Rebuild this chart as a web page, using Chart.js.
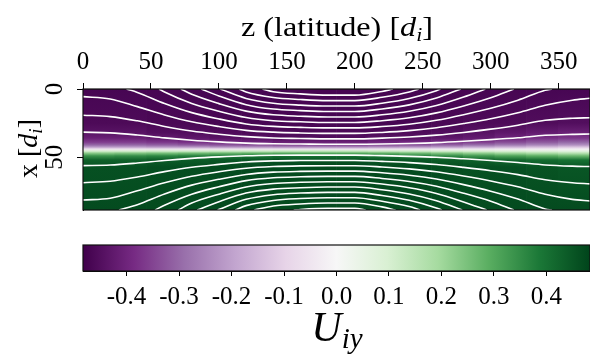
<!DOCTYPE html>
<html>
<head>
<meta charset="utf-8">
<script src="https://cdn.jsdelivr.net/npm/chart.js@4.4.1/dist/chart.umd.min.js"></script>
<style>
  html, body { margin: 0; padding: 0; background: #fff; }
  #wrap { position: relative; width: 590px; height: 358px; }
  #mapBox { position: absolute; left: 0; top: 0; width: 590px; height: 232px; }
  #barBox { position: absolute; left: 0; top: 232px; width: 590px; height: 126px; }
</style>
</head>
<body>
<div id="wrap">
  <div id="mapBox"><canvas id="mapChart"></canvas></div>
  <div id="barBox"><canvas id="colorbarChart"></canvas></div>
</div>
<script>
const SERIF = "'Liberation Serif', 'DejaVu Serif', serif";

// axis extents (z along the top, x downwards)
const zMax = 373;
const xMax = 88.6;
const uMin = -0.483;
const uMax = 0.483;

// PRGn colormap stops
const prgnStops = ["#40004b", "#762a83", "#9970ab", "#c2a5cf", "#e7d4e8", "#f7f7f7",
  "#d9f0d3", "#a6dba0", "#5aae61", "#1b7837", "#00441b"];

// heat map: one column per z strip, U_iy read at these x positions
const columnZ = [11.66, 34.97, 58.28, 81.59, 104.91, 128.22, 151.53, 174.84,
  198.16, 221.47, 244.78, 268.09, 291.41, 314.72, 338.03, 361.34];
const profileX = [0, 25, 32, 36, 39, 41, 42.5, 44, 45.5, 47, 49, 52, 57, 88.6];
const columnU = [
  [-0.47, -0.46, -0.44, -0.41, -0.36, -0.30, -0.21, -0.05, 0.10, 0.23, 0.34, 0.43, 0.46, 0.47],
  [-0.47, -0.46, -0.44, -0.41, -0.36, -0.30, -0.21, -0.05, 0.10, 0.24, 0.35, 0.43, 0.46, 0.47],
  [-0.47, -0.465, -0.45, -0.42, -0.37, -0.31, -0.22, -0.05, 0.11, 0.25, 0.36, 0.44, 0.465, 0.47],
  [-0.47, -0.465, -0.45, -0.43, -0.38, -0.32, -0.22, -0.05, 0.11, 0.26, 0.37, 0.44, 0.465, 0.47],
  [-0.47, -0.47, -0.455, -0.44, -0.39, -0.33, -0.23, -0.05, 0.12, 0.27, 0.38, 0.45, 0.47, 0.47],
  [-0.47, -0.47, -0.46, -0.44, -0.40, -0.34, -0.23, -0.05, 0.12, 0.28, 0.39, 0.45, 0.47, 0.47],
  [-0.47, -0.47, -0.46, -0.45, -0.41, -0.35, -0.24, -0.05, 0.13, 0.29, 0.40, 0.46, 0.47, 0.47],
  [-0.47, -0.47, -0.46, -0.45, -0.41, -0.35, -0.24, -0.05, 0.13, 0.29, 0.40, 0.46, 0.47, 0.47],
  [-0.47, -0.47, -0.46, -0.45, -0.41, -0.35, -0.24, -0.05, 0.13, 0.29, 0.40, 0.46, 0.47, 0.47],
  [-0.47, -0.47, -0.46, -0.44, -0.40, -0.34, -0.23, -0.05, 0.12, 0.28, 0.39, 0.45, 0.47, 0.47],
  [-0.47, -0.47, -0.455, -0.44, -0.39, -0.33, -0.22, -0.05, 0.11, 0.26, 0.37, 0.45, 0.47, 0.47],
  [-0.47, -0.465, -0.45, -0.43, -0.38, -0.31, -0.21, -0.04, 0.10, 0.24, 0.35, 0.44, 0.465, 0.47],
  [-0.47, -0.46, -0.44, -0.42, -0.36, -0.29, -0.19, -0.04, 0.09, 0.22, 0.33, 0.43, 0.46, 0.47],
  [-0.47, -0.46, -0.43, -0.40, -0.34, -0.27, -0.17, -0.03, 0.08, 0.20, 0.31, 0.42, 0.46, 0.47],
  [-0.47, -0.455, -0.42, -0.38, -0.32, -0.25, -0.15, -0.03, 0.07, 0.18, 0.29, 0.41, 0.455, 0.47],
  [-0.47, -0.45, -0.41, -0.37, -0.30, -0.23, -0.13, -0.02, 0.06, 0.16, 0.27, 0.40, 0.45, 0.47],
];

// field lines above the sheet, [z, x]
const upperLines = [
  [[0, 31.6], [20, 32.1], [40, 33.7], [60, 35.8], [80, 37.5], [100, 38.7], [120, 39.6], [140, 40.1], [160, 40.3], [180, 40.5], [200, 40.5], [220, 40.3], [240, 39.9], [260, 39.3], [280, 38.3], [300, 37.1], [320, 35.7], [340, 33.9], [360, 33.2], [373, 33.0]],
  [[0, 19.2], [20, 20.2], [40, 23.3], [60, 27.4], [80, 30.8], [100, 33.1], [120, 34.9], [140, 35.9], [160, 36.2], [180, 36.5], [200, 36.5], [220, 36.0], [240, 35.2], [260, 33.8], [280, 31.8], [300, 29.4], [320, 26.5], [340, 22.9], [360, 21.4], [373, 21.0]],
  [[0, 5.6], [20, 7.3], [40, 12.9], [60, 19.0], [80, 24.0], [100, 27.5], [120, 30.3], [140, 31.6], [160, 32.2], [180, 32.5], [200, 32.5], [220, 31.8], [240, 30.5], [260, 28.4], [280, 25.3], [300, 21.8], [320, 17.4], [340, 11.9], [360, 8.2], [373, 6.8]],
  [[32, 0], [40, 2.5], [60, 10.6], [80, 17.3], [100, 21.9], [120, 25.6], [140, 27.4], [160, 28.1], [180, 28.5], [200, 28.5], [220, 27.5], [240, 25.8], [260, 22.9], [280, 18.8], [300, 14.1], [320, 8.2], [340, 0.9], [345, 0]],
  [[56, 0], [60, 2.2], [80, 10.6], [100, 16.3], [120, 20.9], [140, 23.2], [160, 24.0], [180, 24.5], [200, 24.5], [220, 23.2], [240, 21.1], [260, 17.5], [280, 12.4], [300, 6.4], [317, 0]],
  [[72, 0], [80, 3.9], [100, 10.7], [120, 16.2], [140, 18.9], [160, 19.9], [180, 20.5], [200, 20.5], [220, 18.9], [240, 16.3], [260, 12.1], [280, 5.9], [296, 0]],
  [[87, 0], [100, 5.1], [120, 11.5], [140, 14.7], [160, 15.8], [180, 16.5], [200, 16.5], [220, 14.6], [240, 11.6], [260, 6.6], [278, 0]],
  [[101, 0], [120, 6.9], [140, 10.4], [160, 11.8], [180, 12.5], [200, 12.5], [220, 10.4], [240, 6.9], [260, 1.2], [263, 0]],
  [[115, 0], [120, 2.2], [140, 6.2], [160, 7.7], [180, 8.5], [200, 8.5], [220, 6.1], [240, 2.2], [247, 0]],
  [[132, 0], [140, 2.0], [160, 3.6], [180, 4.5], [200, 4.5], [220, 1.8], [228, 0]],
];

// field lines below the sheet, [z, x]
const lowerLines = [
  [[0, 56.1], [20, 55.7], [40, 54.2], [60, 52.3], [80, 50.8], [100, 49.7], [120, 48.9], [140, 48.5], [160, 48.4], [180, 48.4], [200, 48.4], [220, 48.8], [240, 49.3], [260, 50.0], [280, 51.1], [300, 52.3], [320, 53.8], [340, 55.6], [360, 56.5], [373, 56.8]],
  [[0, 68.6], [20, 67.5], [40, 64.4], [60, 60.5], [80, 57.3], [100, 55.2], [120, 53.4], [140, 52.6], [160, 52.4], [180, 52.3], [200, 52.3], [220, 53.0], [240, 53.9], [260, 55.3], [280, 57.4], [300, 59.8], [320, 62.7], [340, 66.4], [360, 68.6], [373, 69.5]],
  [[0, 81.3], [20, 80.0], [40, 74.5], [60, 68.7], [80, 63.9], [100, 60.6], [120, 58.0], [140, 56.8], [160, 56.3], [180, 56.2], [200, 56.2], [220, 57.1], [240, 58.5], [260, 60.6], [280, 63.7], [300, 67.3], [320, 71.6], [340, 77.1], [360, 80.8], [373, 82.0]],
  [[26.5, 88.6], [40, 84.7], [60, 76.9], [80, 70.4], [100, 66.1], [120, 62.6], [140, 60.9], [160, 60.3], [180, 60.1], [200, 60.1], [220, 61.3], [240, 63.1], [260, 65.9], [280, 70.0], [300, 74.8], [320, 80.6], [340, 87.8], [345, 88.6]],
  [[53, 88.6], [60, 85.1], [80, 77.0], [100, 71.6], [120, 67.1], [140, 65.0], [160, 64.3], [180, 64.0], [200, 64.0], [220, 65.5], [240, 67.7], [260, 71.2], [280, 76.3], [300, 82.2], [317, 88.6]],
  [[70, 88.6], [80, 83.5], [100, 77.0], [120, 71.7], [140, 69.2], [160, 68.3], [180, 67.9], [200, 67.9], [220, 69.6], [240, 72.3], [260, 76.5], [280, 82.7], [297, 88.6]],
  [[84, 88.6], [100, 82.5], [120, 76.2], [140, 73.3], [160, 72.3], [180, 71.8], [200, 71.8], [220, 73.8], [240, 76.9], [260, 81.8], [279, 88.6]],
  [[99, 88.6], [120, 80.8], [140, 77.4], [160, 76.2], [180, 75.7], [200, 75.7], [220, 78.0], [240, 81.5], [260, 87.1], [264, 88.6]],
  [[112, 88.6], [120, 85.4], [140, 81.6], [160, 80.2], [180, 79.6], [200, 79.6], [220, 82.2], [240, 86.1], [248, 88.6]],
  [[126, 88.6], [140, 85.7], [160, 84.2], [180, 83.5], [200, 83.5], [220, 86.3], [230, 88.6]],
  [[155, 88.6], [160, 88.2], [180, 87.4], [200, 87.4], [208, 88.6]],
];

function hexToRgb(hex) {
  const n = parseInt(hex.slice(1), 16);
  return [(n >> 16) & 255, (n >> 8) & 255, n & 255];
}

function prgn(v) {
  let t = (v - uMin) / (uMax - uMin);
  t = Math.min(1, Math.max(0, t));
  const p = t * (prgnStops.length - 1);
  const i = Math.min(Math.floor(p), prgnStops.length - 2);
  const f = p - i;
  const a = hexToRgb(prgnStops[i]);
  const b = hexToRgb(prgnStops[i + 1]);
  const c = a.map((av, k) => Math.round(av + (b[k] - av) * f));
  return `rgb(${c[0]}, ${c[1]}, ${c[2]})`;
}

// vertical gradient for one heat map column
function columnFill(context) {
  const chart = context.chart;
  if (!chart.chartArea || context.dataIndex === undefined) return prgn(0);
  const yScale = chart.scales.y;
  const g = chart.ctx.createLinearGradient(0, yScale.getPixelForValue(0), 0, yScale.getPixelForValue(xMax));
  const vals = columnU[context.dataIndex];
  profileX.forEach((xv, i) => g.addColorStop(xv / xMax, prgn(vals[i])));
  return g;
}

function colorbarFill(context) {
  const chart = context.chart;
  if (!chart.chartArea) return prgn(0);
  const xScale = chart.scales.x;
  const g = chart.ctx.createLinearGradient(xScale.getPixelForValue(uMin), 0, xScale.getPixelForValue(uMax), 0);
  prgnStops.forEach((c, i) => g.addColorStop(i / (prgnStops.length - 1), c));
  return g;
}

// text with italic / subscript pieces
function drawRich(ctx, parts, cx, baseline, stretch) {
  let total = 0;
  parts.forEach((p) => {
    ctx.font = p.font;
    p.w = ctx.measureText(p.text).width;
    total += p.w;
  });
  ctx.save();
  ctx.translate(cx, baseline);
  ctx.scale(stretch, 1);
  ctx.fillStyle = "#000";
  ctx.textAlign = "left";
  ctx.textBaseline = "alphabetic";
  let x = -total / 2;
  parts.forEach((p) => {
    ctx.font = p.font;
    ctx.fillText(p.text, x, p.dy || 0);
    x += p.w;
  });
  ctx.restore();
}

const frameAndTitles = {
  id: "frameAndTitles",
  afterDatasetsDraw(chart) {
    const { ctx, chartArea: a } = chart;
    ctx.save();
    ctx.strokeStyle = "#111";
    ctx.lineWidth = 1.2;
    ctx.strokeRect(a.left, a.top, a.right - a.left, a.bottom - a.top);
    ctx.restore();
  },
  afterDraw(chart) {
    const ctx = chart.ctx;
    drawRich(ctx, [
      { text: "z (latitude) [", font: `28px ${SERIF}` },
      { text: "d", font: `italic 28px ${SERIF}` },
      { text: "i", font: `italic 19px ${SERIF}`, dy: 5 },
      { text: "]", font: `28px ${SERIF}` },
    ], 337, 36, 1.15);

    // y tick labels, turned like the axis title
    const yScale = chart.scales.y;
    ctx.save();
    ctx.fillStyle = "#000";
    ctx.font = `25px ${SERIF}`;
    ctx.textAlign = "center";
    ctx.textBaseline = "middle";
    yScale.ticks.forEach((t) => {
      ctx.save();
      ctx.translate(55, yScale.getPixelForValue(t.value));
      ctx.rotate(-Math.PI / 2);
      ctx.fillText(String(t.value), 0, 0);
      ctx.restore();
    });
    ctx.restore();

    ctx.save();
    ctx.translate(37, 148.5);
    ctx.rotate(-Math.PI / 2);
    drawRich(ctx, [
      { text: "x [", font: `28px ${SERIF}` },
      { text: "d", font: `italic 28px ${SERIF}` },
      { text: "i", font: `italic 19px ${SERIF}`, dy: 5 },
      { text: "]", font: `28px ${SERIF}` },
    ], 0, 0, 1.0);
    ctx.restore();
  },
};

const colorbarFrame = {
  id: "colorbarFrame",
  afterDatasetsDraw(chart) {
    const { ctx, chartArea: a } = chart;
    ctx.save();
    ctx.strokeStyle = "#111";
    ctx.lineWidth = 1.2;
    ctx.strokeRect(a.left, a.top, a.right - a.left, a.bottom - a.top);
    ctx.restore();
  },
  afterDraw(chart) {
    drawRich(chart.ctx, [
      { text: "U", font: `italic 42px ${SERIF}` },
      { text: "iy", font: `italic 29px ${SERIF}`, dy: 7 },
    ], 337, 109, 1.0);
  },
};

const lineDatasets = upperLines.concat(lowerLines).map((pts) => ({
  type: "line",
  data: pts.map(([z, x]) => ({ x: z, y: x })),
  borderColor: "#ffffff",
  borderWidth: 1.6,
  pointRadius: 0,
  fill: false,
  cubicInterpolationMode: "monotone",
  order: 0,
}));

new Chart(document.getElementById("mapChart"), {
  type: "bar",
  data: {
    datasets: [
      ...lineDatasets,
      {
        type: "bar",
        data: columnZ.map((z) => ({ x: z, y: [0, xMax] })),
        backgroundColor: columnFill,
        borderWidth: 0,
        barPercentage: 1,
        categoryPercentage: 1,
        order: 5,
      },
    ],
  },
  options: {
    responsive: true,
    maintainAspectRatio: false,
    animation: false,
    layout: { padding: { left: 0, right: 0, top: 0, bottom: 22 } },
    plugins: { legend: { display: false }, tooltip: { enabled: false } },
    scales: {
      x: {
        type: "linear",
        position: "top",
        min: 0,
        max: zMax,
        offset: false,
        ticks: {
          stepSize: 50,
          includeBounds: false,
          autoSkip: false,
          maxRotation: 0,
          padding: 6,
          color: "#000",
          font: { family: SERIF, size: 25 },
        },
        grid: { display: true, drawOnChartArea: false, drawTicks: true, tickLength: 6, color: "#000", offset: false },
        border: { display: true, color: "#000", width: 1 },
        afterFit: (s) => { s.height = 89; },
      },
      y: {
        type: "linear",
        reverse: true,
        min: 0,
        max: xMax,
        ticks: { stepSize: 50, includeBounds: false, display: false },
        grid: { display: true, drawOnChartArea: false, drawTicks: true, tickLength: 6, color: "#000" },
        border: { display: true, color: "#000", width: 1 },
        afterFit: (s) => { s.width = 83; },
      },
    },
  },
  plugins: [frameAndTitles],
});

new Chart(document.getElementById("colorbarChart"), {
  type: "bar",
  data: {
    labels: ["U_iy"],
    datasets: [{
      data: [[uMin, uMax]],
      backgroundColor: colorbarFill,
      borderWidth: 0,
      barPercentage: 1,
      categoryPercentage: 1,
    }],
  },
  options: {
    indexAxis: "y",
    responsive: true,
    maintainAspectRatio: false,
    animation: false,
    layout: { padding: { left: 83, right: 0, top: 13, bottom: 0 } },
    plugins: { legend: { display: false }, tooltip: { enabled: false } },
    scales: {
      y: { display: false },
      x: {
        type: "linear",
        position: "bottom",
        min: uMin,
        max: uMax,
        ticks: {
          stepSize: 0.1,
          includeBounds: false,
          autoSkip: false,
          maxRotation: 0,
          padding: 6,
          color: "#000",
          font: { family: SERIF, size: 25 },
          callback: (v) => Number(v).toFixed(1),
        },
        grid: { display: true, drawOnChartArea: false, drawTicks: true, tickLength: 5, color: "#000" },
        border: { display: true, color: "#000", width: 1 },
        afterFit: (s) => { s.height = 87; },
      },
    },
  },
  plugins: [colorbarFrame],
});
</script>
</body>
</html>
